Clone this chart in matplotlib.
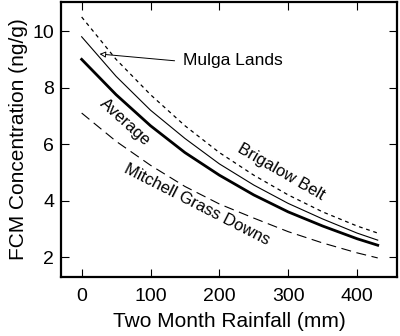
import numpy as np
import matplotlib.pyplot as plt

plt.rcParams['font.family'] = ['Liberation Sans', 'DejaVu Sans']

# rainfall (mm) and FCM concentration (ng/g)
rain = [0, 50, 100, 150, 200, 250, 300, 350, 400, 430]
average = [9.0, 7.75, 6.65, 5.7, 4.9, 4.2, 3.6, 3.1, 2.65, 2.42]
mulga = [9.8, 8.4, 7.2, 6.2, 5.3, 4.55, 3.9, 3.35, 2.85, 2.6]
brigalow = [10.5, 9.0, 7.75, 6.65, 5.7, 4.9, 4.2, 3.6, 3.1, 2.85]
mitchell = [7.1, 6.1, 5.25, 4.5, 3.88, 3.38, 2.9, 2.5, 2.15, 1.97]

xticks = [0, 100, 200, 300, 400]
yticks = [2, 4, 6, 8, 10]

fig = plt.figure(figsize=(4, 3.36), dpi=100)
ax = fig.add_axes([0.1525, 0.176, 0.84, 0.818])

ax.plot(rain, brigalow, color='black', lw=0.9, ls=(0, (3, 3)))
ax.plot(rain, mulga, color='black', lw=0.8)
ax.plot(rain, average, color='black', lw=2.0)
ax.plot(rain, mitchell, color='black', lw=0.8, ls=(0, (9, 5)))

# labels
ax.text(147, 8.97, 'Mulga Lands', fontsize=12.5, va='center', ha='left')
ax.annotate('', xy=(26, 9.19), xytext=(135, 8.95),
            arrowprops=dict(arrowstyle='-|>', color='black', lw=0.7,
                            fc='white', mutation_scale=9,
                            shrinkA=0, shrinkB=0))
ax.text(63, 6.78, 'Average', rotation=-42, fontsize=12,
        ha='center', va='center', rotation_mode='anchor')
ax.text(168, 3.86, 'Mitchell Grass Downs', rotation=-27, fontsize=12,
        ha='center', va='center', rotation_mode='anchor')
ax.text(289, 5.0, 'Brigalow Belt', rotation=-30, fontsize=12,
        ha='center', va='center', rotation_mode='anchor')

ax.set_xlim(-30, 458)
ax.set_ylim(1.3, 11.03)
ax.set_xticks(xticks)
ax.set_yticks(yticks)
ax.tick_params(direction='in', top=True, right=True, length=6, width=0.8,
               labelsize=14)
ax.tick_params(axis='x', pad=8)
ax.tick_params(axis='y', pad=5)
for s in ax.spines.values():
    s.set_linewidth(1.6)

ax.set_xlabel('Two Month Rainfall (mm)', fontsize=15, labelpad=5)
ax.set_ylabel('FCM Concentration (ng/g)', fontsize=15, labelpad=3)

fig.savefig('out.png', dpi=100)
